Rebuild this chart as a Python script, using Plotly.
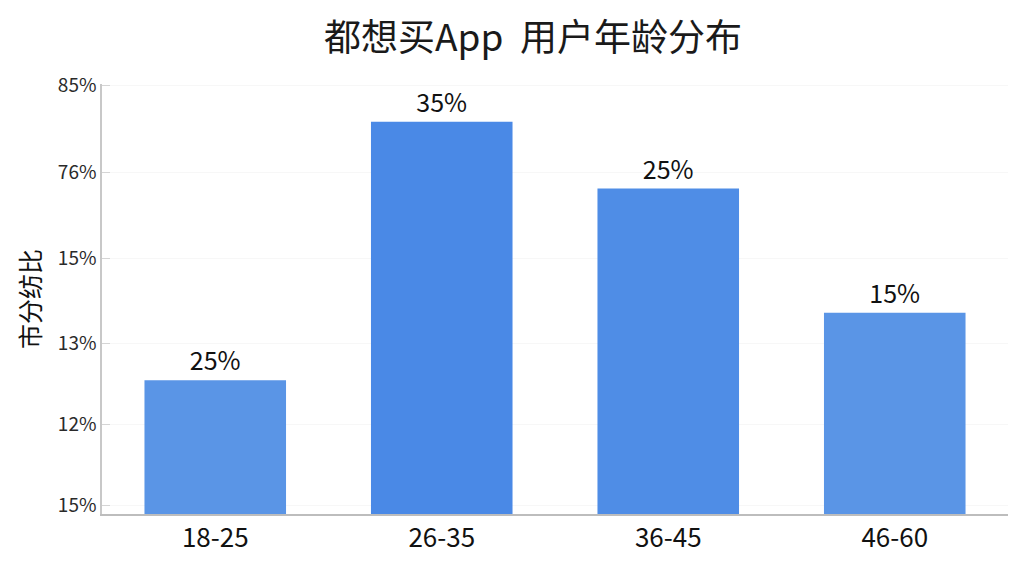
import plotly.graph_objects as go

# age groups and the bar heights as drawn (the axis labels in the source do not match a real scale)
age_groups = ["18-25", "26-35", "36-45", "46-60"]
bar_heights = [1.56, 4.58, 3.80, 2.35]
bar_labels = ["25%", "35%", "25%", "15%"]
bar_colors = ["#5a95e6", "#4a89e6", "#4f8de6", "#5a95e6"]

tick_vals = [0.10, 1.05, 1.99, 2.98, 3.99, 5.00]
tick_text = ["15%", "12%", "13%", "15%", "76%", "85%"]

fig = go.Figure(go.Bar(
    x=age_groups,
    y=bar_heights,
    text=bar_labels,
    textposition="outside",
    textfont=dict(size=25, color="#111111"),
    marker=dict(color=bar_colors, line=dict(width=0)),
    width=0.625,
    cliponaxis=False,
))

fig.update_layout(
    width=1024,
    height=576,
    margin=dict(l=94, r=24, t=76, b=70, autoexpand=False),
    paper_bgcolor="white",
    plot_bgcolor="white",
    font=dict(family="Noto Sans CJK SC, Noto Sans, sans-serif", color="#222222"),
    title=dict(
        text="都想买App  用户年龄分布",
        x=525 / 1024,
        xanchor="center",
        y=1 - 30 / 576,
        yanchor="middle",
        font=dict(size=37, color="#1a1a1a"),
    ),
    showlegend=False,
)

fig.update_xaxes(
    showline=True,
    linecolor="#bdbdbd",
    linewidth=1.5,
    ticks="",
    tickfont=dict(size=26, color="#111111"),
    showgrid=False,
)

fig.update_yaxes(
    range=[0, 5.02],
    tickvals=tick_vals,
    ticktext=tick_text,
    tickfont=dict(size=19, color="#2a2a2a"),
    showline=True,
    linecolor="#c8c8c8",
    linewidth=1.5,
    ticks="inside",
    ticklen=8,
    tickcolor="#d5d5d5",
    showgrid=True,
    gridcolor="#f7f7f7",
    zeroline=False,
    title=dict(text="市分纺比", font=dict(size=25, color="#111111"), standoff=10),
)

# faint right-hand border of the chart frame
fig.add_shape(type="line", xref="paper", yref="paper", x0=1.013, x1=1.013, y0=0, y1=1,
              line=dict(color="#f0f0f0", width=1))

fig.write_html("out.html")
